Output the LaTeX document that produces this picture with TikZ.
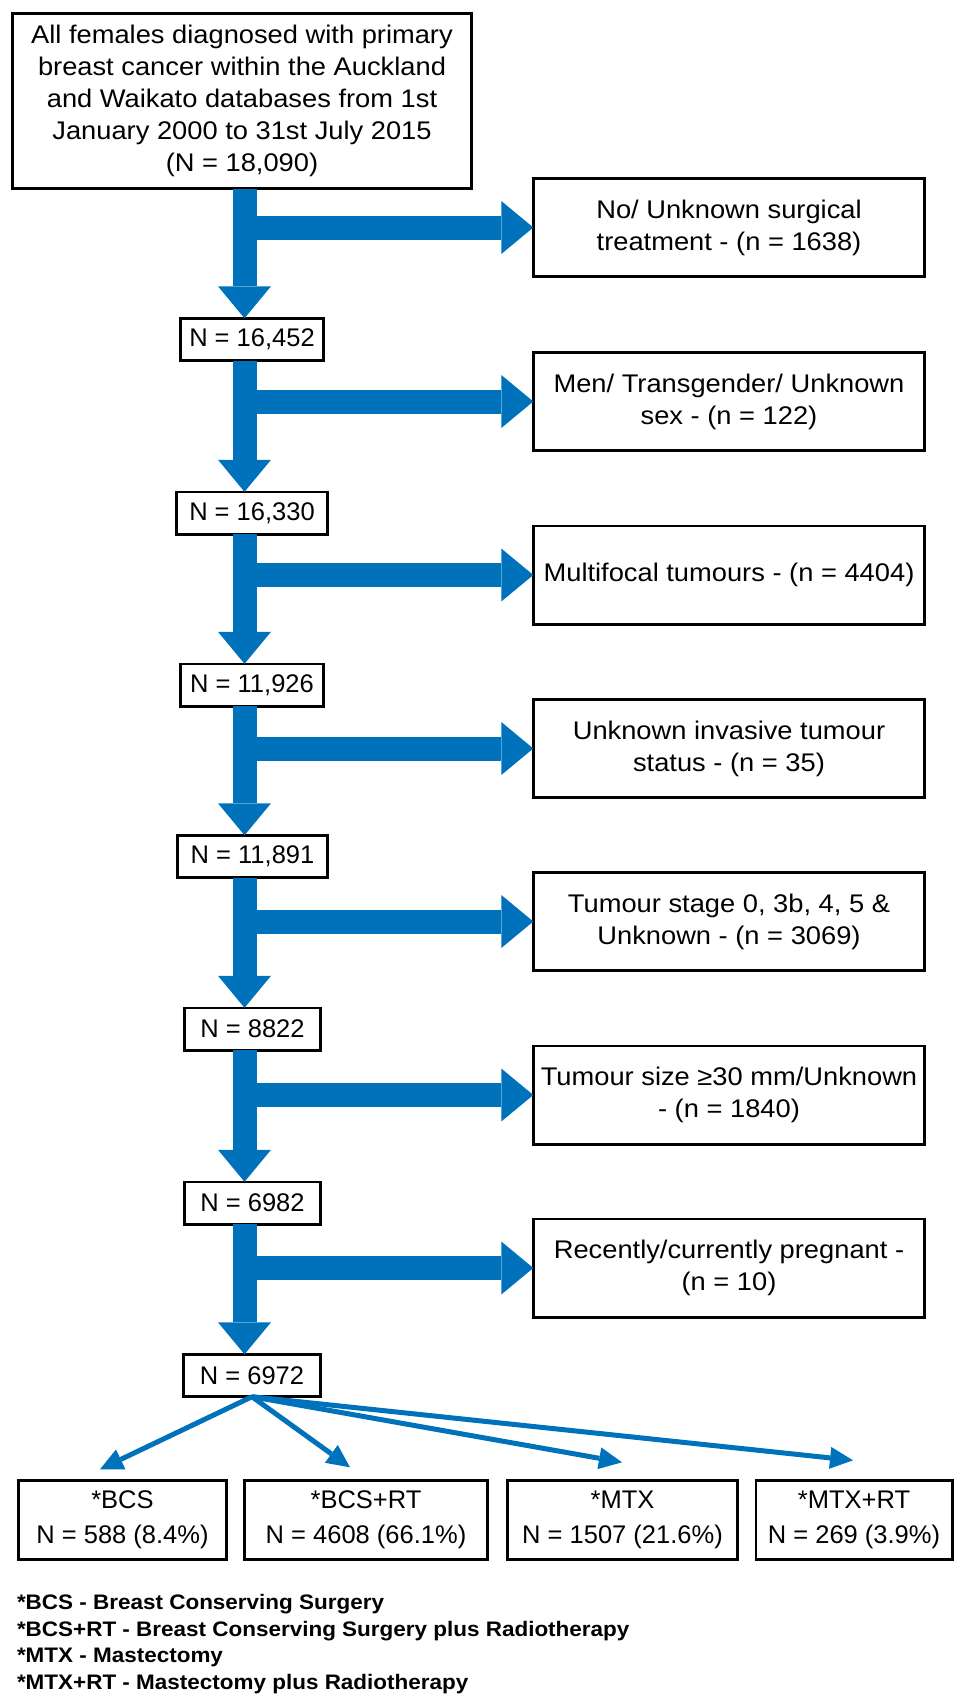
\documentclass[tikz,border=0pt]{standalone}
\usepackage{fontspec}
\setmainfont{Liberation Sans}
\newfontfamily\widef[FakeStretch=1.07]{Liberation Sans}
\usetikzlibrary{arrows.meta,calc}
\definecolor{fblue}{RGB}{0,114,188}
\begin{document}
\begin{tikzpicture}[x=1pt,y=-1pt,
  every node/.style={inner sep=0pt, outer sep=0pt},
  box/.style={draw=black, line width=2.6pt, align=center},
  txt/.style={font=\widef\fontsize{25.5}{32}\selectfont},
  nbox/.style={box, font=\fontsize{25.5}{30}\selectfont, minimum height=42.4pt},
  side/.style={box, txt, minimum width=391.4pt, minimum height=98.4pt},
  res/.style={box, font=\fontsize{25.5}{35}\selectfont, minimum height=79.4pt},
  big/.style={draw=fblue, line width=24pt, -{Triangle[length=32pt,width=53pt,line width=0pt]}},
  fan/.style={draw=fblue, line width=5pt, -{Triangle[length=23pt,width=22pt,line width=0pt]}},
]
\fill[white] (0,0) rectangle (956,1695);
\useasboundingbox (0,0) rectangle (956,1695);

% main column
\node[box, txt, minimum width=459.4pt, minimum height=175.4pt] (top) at (242,101)
  {All females diagnosed with primary\\breast cancer within the Auckland\\and Waikato databases from 1st\\January 2000 to 31st July 2015\\(N = 18,090)};
\node[nbox, minimum width=143.4pt] (n1) at (252,339.5) {N = 16,452};
\node[nbox, minimum width=151.4pt] (n2) at (252,513) {N = 16,330};
\node[nbox, minimum width=143.4pt] (n3) at (252,685) {N = 11,926};
\node[nbox, minimum width=150.4pt] (n4) at (252.5,856.5) {N = 11,891};
\node[nbox, minimum width=136.4pt] (n5) at (252.5,1029) {N = 8822};
\node[nbox, minimum width=136.4pt] (n6) at (252.5,1203) {N = 6982};
\node[nbox, minimum width=137.4pt] (n7) at (252,1375.5) {N = 6972};

% exclusion boxes
\node[side] (s1) at (729,227.5) {No/ Unknown surgical\\treatment - (n = 1638)};
\node[side] (s2) at (729,401.5) {Men/ Transgender/ Unknown\\sex - (n = 122)};
\node[side] (s3) at (729,575) {Multifocal tumours - (n = 4404)};
\node[side] (s4) at (729,748.5) {Unknown invasive tumour\\status - (n = 35)};
\node[side] (s5) at (729,921.5) {Tumour stage 0, 3b, 4, 5 \&\\Unknown - (n = 3069)};
\node[side] (s6) at (729,1095) {Tumour size ≥30 mm/Unknown\\- (n = 1840)};
\node[side] (s7) at (729,1268) {Recently/currently pregnant -\\(n = 10)};

% result boxes
\node[res, minimum width=208.4pt] (b1) at (122.5,1520) {*BCS\\N = 588 (8.4\%)};
\node[res, minimum width=243.4pt] (b2) at (366,1520) {*BCS+RT\\N = 4608 (66.1\%)};
\node[res, minimum width=230.4pt] (b3) at (622.5,1520) {*MTX\\N = 1507 (21.6\%)};
\node[res, minimum width=196.4pt] (b4) at (854,1520) {*MTX+RT\\N = 269 (3.9\%)};

% legend
\node[anchor=west, align=left, font=\widef\bfseries\fontsize{21}{26.7}\selectfont] (leg) at (17,1644)
  {*BCS - Breast Conserving Surgery\\*BCS+RT - Breast Conserving Surgery plus Radiotherapy\\*MTX - Mastectomy\\*MTX+RT - Mastectomy plus Radiotherapy};

% block arrows
\coordinate (sx) at (244.5,0);
\draw[big] (sx |- s1.west) -- (s1.west);
\draw[big] (sx |- s2.west) -- (s2.west);
\draw[big] (sx |- s3.west) -- (s3.west);
\draw[big] (sx |- s4.west) -- (s4.west);
\draw[big] (sx |- s5.west) -- (s5.west);
\draw[big] (sx |- s6.west) -- (s6.west);
\draw[big] (sx |- s7.west) -- (s7.west);
\draw[big] (top.south -| sx) -- (n1.north -| sx);
\draw[big] (n1.south -| sx) -- (n2.north -| sx);
\draw[big] (n2.south -| sx) -- (n3.north -| sx);
\draw[big] (n3.south -| sx) -- (n4.north -| sx);
\draw[big] (n4.south -| sx) -- (n5.north -| sx);
\draw[big] (n5.south -| sx) -- (n6.north -| sx);
\draw[big] (n6.south -| sx) -- (n7.north -| sx);

% fan arrows
\draw[fan] (n7.south) -- ($(b1.north)+(-22.5,-11)$);
\draw[fan] (n7.south) -- ($(b2.north)+(-16,-13)$);
\draw[fan] (n7.south) -- ($(b3.north)+(-0.5,-18)$);
\draw[fan] (n7.south) -- ($(b4.north)+(-1,-20)$);
\end{tikzpicture}
\end{document}
